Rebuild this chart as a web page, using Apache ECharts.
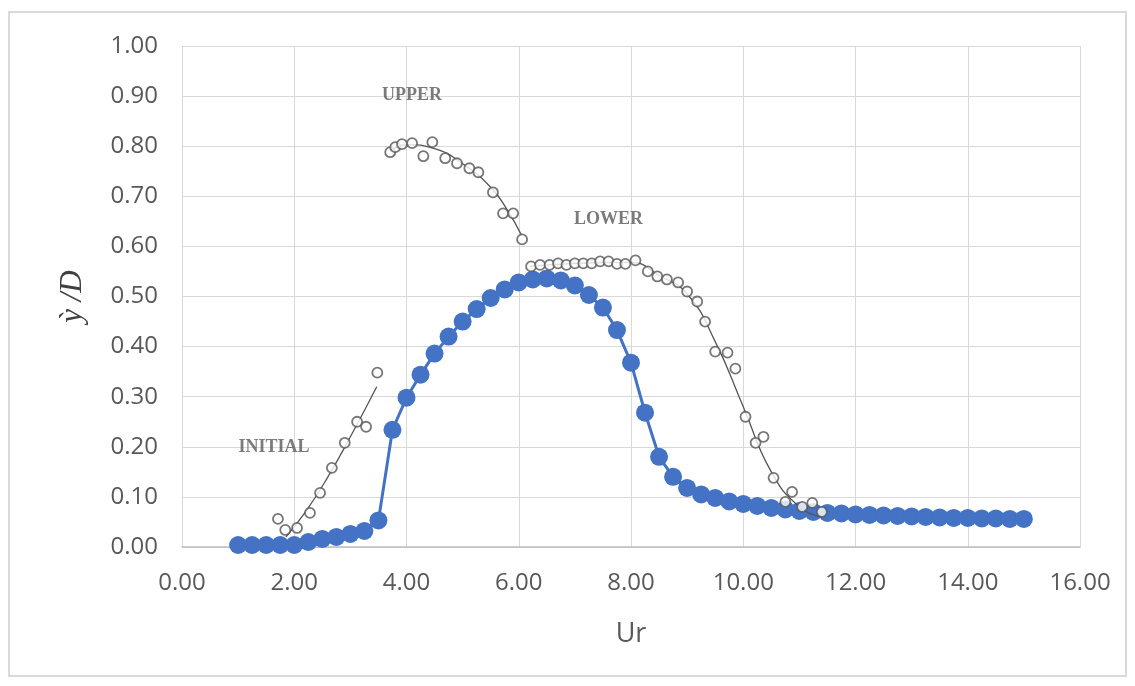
<!DOCTYPE html>
<html>
<head>
<meta charset="utf-8">
<script src="https://cdn.jsdelivr.net/npm/echarts@6/dist/echarts.min.js"></script>
<style>
    html, body { margin: 0; padding: 0; background: #fff; }
    #chart_main { width: 1135px; height: 686px; }
</style>
</head>
<body>
<div id="chart_main"></div>
<script>
// 计算结果 (blue)
let calc_x = [1.00, 1.25, 1.50, 1.75, 2.00, 2.25, 2.50, 2.75, 3.00, 3.25, 3.50, 3.75, 4.00, 4.25, 4.50, 4.75,
    5.00, 5.25, 5.50, 5.75, 6.00, 6.25, 6.50, 6.75, 7.00, 7.25, 7.50, 7.75, 8.00, 8.25, 8.50, 8.75,
    9.00, 9.25, 9.50, 9.75, 10.00, 10.25, 10.50, 10.75, 11.00, 11.25, 11.50, 11.75, 12.00, 12.25, 12.50, 12.75,
    13.00, 13.25, 13.50, 13.75, 14.00, 14.25, 14.50, 14.75, 15.00];
let calc_y = [0.004, 0.004, 0.004, 0.004, 0.004, 0.010, 0.016, 0.020, 0.026, 0.032, 0.053, 0.234, 0.298, 0.344, 0.386, 0.420,
    0.450, 0.475, 0.497, 0.514, 0.528, 0.534, 0.536, 0.532, 0.522, 0.503, 0.478, 0.433, 0.368, 0.268, 0.180, 0.140,
    0.118, 0.105, 0.098, 0.091, 0.086, 0.082, 0.078, 0.075, 0.072, 0.070, 0.068, 0.067, 0.065, 0.064, 0.063, 0.062,
    0.061, 0.060, 0.059, 0.058, 0.058, 0.057, 0.057, 0.056, 0.056];

// 实验点 (hollow circles)
let initial_x = [1.71, 1.84, 2.05, 2.28, 2.46, 2.67, 2.90, 3.12, 3.28, 3.48];
let initial_y = [0.056, 0.034, 0.038, 0.068, 0.108, 0.158, 0.208, 0.250, 0.240, 0.348];
let upper_x = [3.71, 3.80, 3.92, 4.10, 4.30, 4.46, 4.69, 4.90, 5.12, 5.28, 5.54, 5.72, 5.90, 6.06];
let upper_y = [0.788, 0.798, 0.804, 0.806, 0.780, 0.808, 0.776, 0.766, 0.756, 0.748, 0.708, 0.666, 0.666, 0.614];
let lower_x = [6.22, 6.38, 6.55, 6.70, 6.85, 7.00, 7.15, 7.30, 7.45, 7.60, 7.75, 7.90, 8.08, 8.30, 8.47, 8.64, 8.84,
    9.00, 9.18, 9.32, 9.50, 9.72, 9.86, 10.04, 10.22, 10.36, 10.54, 10.75, 10.87, 11.05, 11.23, 11.40];
let lower_y = [0.560, 0.563, 0.563, 0.566, 0.563, 0.566, 0.566, 0.566, 0.570, 0.570, 0.565, 0.565, 0.572, 0.550, 0.540, 0.534, 0.528,
    0.510, 0.490, 0.450, 0.390, 0.388, 0.356, 0.260, 0.208, 0.220, 0.138, 0.090, 0.110, 0.080, 0.088, 0.070];

// 拟合曲线
let initial_fit_x = [1.85, 2.20, 2.60, 3.00, 3.47];
let initial_fit_y = [0.020, 0.070, 0.140, 0.220, 0.320];
let upper_fit_x = [3.70, 4.00, 4.50, 5.00, 5.50, 5.80, 6.05];
let upper_fit_y = [0.790, 0.803, 0.795, 0.765, 0.718, 0.672, 0.622];
let lower_fit_x = [6.20, 7.00, 8.00, 8.50, 9.00, 9.50, 10.00, 10.50, 11.00, 11.40];
let lower_fit_y = [0.560, 0.566, 0.568, 0.542, 0.505, 0.410, 0.280, 0.150, 0.080, 0.060];

// 标注
let tag_names = ['INITIAL', 'UPPER', 'LOWER'];
let tag_x = [1.64, 4.10, 7.60];
let tag_y = [0.198, 0.902, 0.655];

function zip(xs, ys) {
    let out = [];
    for (let i = 0; i < xs.length; i++) {
        out.push([xs[i], ys[i]]);
    }
    return out;
}

function fitSeries(xs, ys) {
    return {
        type: 'line',
        data: zip(xs, ys),
        smooth: true,
        symbol: 'none',
        z: 3,
        lineStyle: {color: '#555555', width: 1.3}
    };
}

function dotSeries(xs, ys) {
    return {
        type: 'scatter',
        data: zip(xs, ys),
        symbol: 'circle',
        symbolSize: 10,
        z: 4,
        itemStyle: {color: '#ffffff', borderColor: '#555555', borderWidth: 1.8}
    };
}

let myChart = echarts.init(document.getElementById('chart_main'));
let font = '"Open Sans", "Noto Sans", sans-serif';
let tags = [];
for (let i = 0; i < tag_names.length; i++) {
    tags.push({value: [tag_x[i], tag_y[i]], name: tag_names[i]});
}

let option = {
    animation: false,
    backgroundColor: '#ffffff',
    graphic: [{
        type: 'rect',
        shape: {x: 9, y: 12, width: 1117, height: 664},
        style: {fill: 'none', stroke: '#d9d9d9', lineWidth: 2},
        silent: true
    }],
    grid: {left: 182, top: 46, right: 55, bottom: 139},
    xAxis: {
        type: 'value',
        min: 0, max: 16, interval: 2,
        name: 'Ur',
        nameLocation: 'middle',
        nameGap: 74,
        nameTextStyle: {fontFamily: font, fontSize: 27, color: '#595959'},
        axisLine: {show: true, lineStyle: {color: '#bfbfbf', width: 1.5}},
        axisTick: {show: false},
        axisLabel: {
            fontFamily: font, fontSize: 24, color: '#595959', margin: 24,
            formatter: function (v) { return v.toFixed(2); }
        },
        splitLine: {show: true, lineStyle: {color: '#d9d9d9', width: 1}}
    },
    yAxis: {
        type: 'value',
        min: 0, max: 1, interval: 0.1,
        name: 'ỳ /D',
        nameLocation: 'middle',
        nameGap: 94,
        nameRotate: 90,
        nameTextStyle: {fontFamily: '"Liberation Serif", serif', fontStyle: 'italic', fontSize: 31, color: '#404040'},
        axisLine: {show: false},
        axisTick: {show: false},
        axisLabel: {
            fontFamily: font, fontSize: 24, color: '#595959', margin: 24,
            formatter: function (v) { return v.toFixed(2); }
        },
        splitLine: {show: true, lineStyle: {color: '#d9d9d9', width: 1}}
    },
    series: [
        {
            type: 'line',
            data: zip(calc_x, calc_y),
            symbol: 'circle',
            symbolSize: 18,
            z: 2,
            lineStyle: {color: '#4472c4', width: 3},
            itemStyle: {color: '#4472c4'}
        },
        fitSeries(initial_fit_x, initial_fit_y),
        fitSeries(upper_fit_x, upper_fit_y),
        fitSeries(lower_fit_x, lower_fit_y),
        dotSeries(initial_x, initial_y),
        dotSeries(upper_x, upper_y),
        dotSeries(lower_x, lower_y),
        {
            type: 'scatter',
            data: tags,
            symbolSize: 0,
            z: 5,
            label: {
                show: true,
                position: 'inside',
                formatter: '{b}',
                fontFamily: '"Liberation Serif", "DejaVu Serif", serif',
                fontSize: 18,
                fontWeight: 'bold',
                color: '#5a5a5a'
            }
        }
    ]
};
myChart.setOption(option);
</script>
</body>
</html>
